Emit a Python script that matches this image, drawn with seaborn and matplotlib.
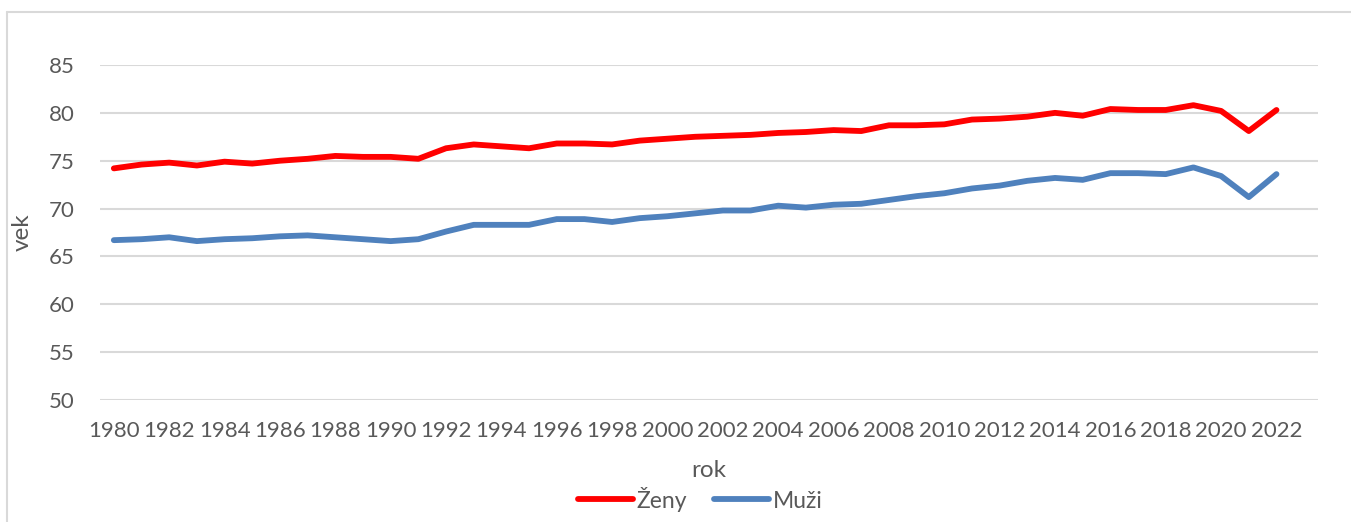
import numpy as np
import pandas as pd
import matplotlib
matplotlib.use('Agg')
import matplotlib.pyplot as plt
import seaborn as sns
from matplotlib.lines import Line2D

sns.set_style('white')
plt.rcParams['font.family'] = ['Lato', 'DejaVu Sans']

years = list(range(1980, 2023))
zeny = [74.2, 74.6, 74.8, 74.5, 74.9, 74.7, 75.0, 75.2, 75.5, 75.4, 75.4, 75.2,
        76.3, 76.7, 76.5, 76.3, 76.8, 76.8, 76.7, 77.1, 77.3, 77.5, 77.6, 77.7,
        77.9, 78.0, 78.2, 78.1, 78.7, 78.7, 78.8, 79.3, 79.4, 79.6, 80.0, 79.7,
        80.4, 80.3, 80.3, 80.8, 80.2, 78.1, 80.3]
muzi = [66.7, 66.8, 67.0, 66.6, 66.8, 66.9, 67.1, 67.2, 67.0, 66.8, 66.6, 66.8,
        67.6, 68.3, 68.3, 68.3, 68.9, 68.9, 68.6, 69.0, 69.2, 69.5, 69.8, 69.8,
        70.3, 70.1, 70.4, 70.5, 70.9, 71.3, 71.6, 72.1, 72.4, 72.9, 73.2, 73.0,
        73.7, 73.7, 73.6, 74.3, 73.4, 71.2, 73.6]
series_names = ['Ženy', 'Muži']
colors = {'Ženy': '#FF0000', 'Muži': '#4F81BD'}

df = pd.DataFrame({'rok': years, 'Ženy': zeny, 'Muži': muzi})
df = df.melt(id_vars='rok', var_name='pohlavie', value_name='vek')

fig = plt.figure(figsize=(13.51, 5.22), dpi=100)
ax = fig.add_axes([100/1351, 1-400/522, 1218/1351, 335/522])

sns.lineplot(data=df, x='rok', y='vek', hue='pohlavie', hue_order=series_names,
             palette=colors, linewidth=4.2, ax=ax, legend=False)
for ln in ax.lines:
    ln.set_solid_capstyle('round')
    ln.set_solid_joinstyle('round')

ax.set_xlim(1979.5, 2023.5)
ax.set_ylim(50, 85)
ax.set_yticks(range(50, 90, 5))
ax.set_xticks(range(1980, 2023, 2))
ax.grid(axis='y', color='#D9D9D9', linewidth=1.5)
ax.set_axisbelow(True)
for s in ax.spines.values():
    s.set_visible(False)
ax.tick_params(axis='both', length=0, labelsize=16, colors='#595959')
ax.tick_params(axis='x', pad=15)
ax.tick_params(axis='y', pad=18)
ax.set_xlabel('rok', fontsize=17.5, color='#595959', labelpad=14)
ax.set_ylabel('vek', fontsize=17.5, color='#595959', labelpad=12)

handles = [Line2D([0], [0], color=colors[n], linewidth=4.2, solid_capstyle='round') for n in series_names]
fig.legend(handles, series_names, loc='center', bbox_to_anchor=(700/1351, 1-499/522),
           ncol=2, frameon=False, fontsize=16.5, labelcolor='#595959',
           handlelength=2.4, handletextpad=0.15, columnspacing=1.2)

# chart border (only top and left edges are inside the picture)
fig.add_artist(Line2D([7/1351, 7/1351], [0, 1-12/522], transform=fig.transFigure, color='#D9D9D9', linewidth=1.5))
fig.add_artist(Line2D([7/1351, 1], [1-12/522, 1-12/522], transform=fig.transFigure, color='#D9D9D9', linewidth=1.5))

fig.savefig('out.png', dpi=100)
